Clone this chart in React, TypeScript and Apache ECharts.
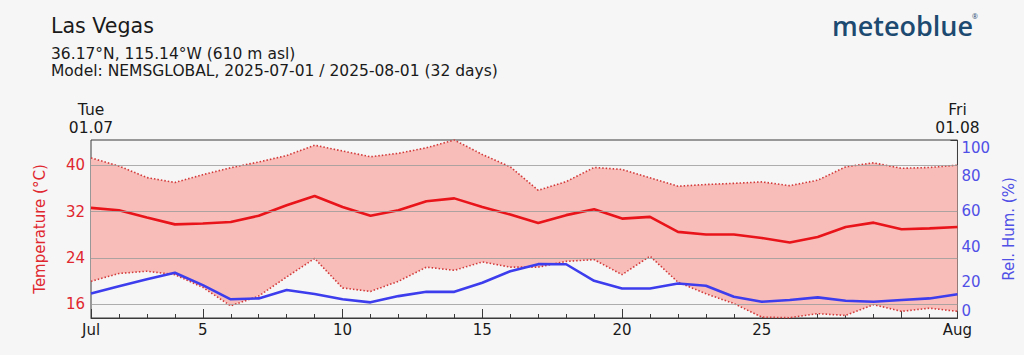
import React, { useEffect, useRef } from "react";
import * as echarts from "echarts";

const dates = [
  "2025-07-01", "2025-07-02", "2025-07-03", "2025-07-04", "2025-07-05", "2025-07-06", "2025-07-07", "2025-07-08",
  "2025-07-09", "2025-07-10", "2025-07-11", "2025-07-12", "2025-07-13", "2025-07-14", "2025-07-15", "2025-07-16",
  "2025-07-17", "2025-07-18", "2025-07-19", "2025-07-20", "2025-07-21", "2025-07-22", "2025-07-23", "2025-07-24",
  "2025-07-25", "2025-07-26", "2025-07-27", "2025-07-28", "2025-07-29", "2025-07-30", "2025-07-31", "2025-08-01",
];

const tempMean = [
  32.65, 32.25, 31.0, 29.8, 29.95, 30.2, 31.3, 33.1, 34.7, 32.8,
  31.3, 32.25, 33.8, 34.3, 32.8, 31.5, 30.05, 31.4, 32.4, 30.8,
  31.1, 28.5, 28.05, 28.05, 27.45, 26.65, 27.6, 29.35, 30.1, 28.95,
  29.1, 29.35,
];
const tempMax = [
  41.3, 39.9, 37.9, 37.05, 38.4, 39.6, 40.6, 41.7, 43.5, 42.5,
  41.5, 42.1, 43.05, 44.4, 41.9, 39.75, 35.7, 37.2, 39.65, 39.3,
  37.85, 36.4, 36.7, 36.9, 37.15, 36.5, 37.45, 39.75, 40.45, 39.5,
  39.65, 40.05,
];
const tempMin = [
  19.95, 21.3, 21.7, 21.1, 18.9, 15.7, 17.4, 20.7, 23.9, 18.8,
  18.2, 19.95, 22.4, 21.85, 23.3, 22.4, 22.4, 23.4, 23.7, 21.1,
  24.3, 19.8, 17.8, 16.1, 13.75, 13.65, 14.35, 14.05, 15.9, 14.75,
  15.3, 14.75,
];
const relHum = [
  13.8, 17.9, 21.8, 25.4, 18.5, 10.5, 11.0, 15.7, 13.5, 10.5,
  8.8, 12.3, 14.7, 14.7, 19.8, 26.3, 30.25, 30.2, 20.9, 16.6,
  16.6, 19.4, 18.1, 11.9, 9.1, 10.1, 11.6, 9.7, 9.1, 10.1,
  11.0, 13.3,
];

const tempTicks = [16, 24, 32, 40];
const labeledDays = [5, 10, 15, 20, 25];
const majorTickDays = [5, 10, 15, 20, 25, 30];
const monthNames = ["Jan", "Feb", "Mar", "Apr", "May", "Jun", "Jul", "Aug", "Sep", "Oct", "Nov", "Dec"];
const weekDays = ["Sun", "Mon", "Tue", "Wed", "Thu", "Fri", "Sat"];

const FONT = "DejaVu Sans";
const RED = "#e8141a";
const RED_TEXT = "#e0262e";
const DOT = "#d23a3a";
const FILL = "#f8bdb9";
const BLUE = "#3d3ded";
const BLUE_TEXT = "#5050e6";

function bottomLabel(v: string): string {
  const day = Number(v.slice(8, 10));
  const month = Number(v.slice(5, 7));
  if (day === 1) return monthNames[month - 1];
  if (labeledDays.includes(day)) return String(day);
  return "";
}
function isMajor(v: string): boolean {
  const day = Number(v.slice(8, 10));
  return day === 1 || majorTickDays.includes(day);
}

export default function App() {
  const ref = useRef<HTMLDivElement>(null);
  useEffect(() => {
    if (!ref.current) return;
    const chart = echarts.init(ref.current, null, { renderer: "svg" });
    const band = tempMax.map((v, i) => +(v - tempMin[i]).toFixed(3));
    const lastIdx = dates.length - 1;
    chart.setOption({
      animation: false,
      backgroundColor: "#f6f6f6",
      textStyle: { fontFamily: FONT },
      grid: {
        left: 91,
        right: 62,
        top: 140,
        bottom: 37,
        show: true,
        borderColor: "#3a3a3a",
        borderWidth: 1,
        backgroundColor: "transparent",
      },
      graphic: [
        { type: "text", left: 51, top: 15, style: { text: "Las Vegas", font: `20.6px "${FONT}"`, fill: "#1a1a1a" } },
        { type: "text", left: 51, top: 46, style: { text: "36.17°N, 115.14°W (610 m asl)", font: `15.5px "${FONT}"`, fill: "#1a1a1a" } },
        { type: "text", left: 51, top: 63, style: { text: "Model: NEMSGLOBAL, 2025-07-01 / 2025-08-01 (32 days)", font: `15.5px "${FONT}"`, fill: "#1a1a1a" } },
        { type: "text", left: 832, top: 12, style: { text: "meteoblue", font: `600 27px "Open Sans"`, fill: "#1d4a70" } },
        { type: "text", left: 972, top: 13, style: { text: "®", font: `7px "Open Sans"`, fill: "#1d4a70" } },
      ],
      xAxis: [
        {
          type: "category",
          data: dates,
          boundaryGap: false,
          position: "bottom",
          axisLine: { show: true, lineStyle: { color: "#3a3a3a" } },
          axisTick: { show: true, inside: true, length: 4, interval: 0, lineStyle: { color: "#3a3a3a" } },
          axisLabel: { interval: 0, formatter: bottomLabel, color: "#1a1a1a", fontSize: 15, margin: 4, fontFamily: FONT },
          splitLine: { show: false },
        },
        {
          type: "category",
          data: dates,
          boundaryGap: false,
          position: "bottom",
          axisLine: { show: false },
          axisTick: {
            show: true,
            inside: true,
            length: 9,
            interval: (_i: number, v: string) => isMajor(v),
            lineStyle: { color: "#3a3a3a" },
          },
          axisLabel: { show: false },
          splitLine: { show: false },
        },
        {
          type: "category",
          data: dates,
          boundaryGap: false,
          position: "top",
          axisLine: { show: false },
          axisTick: { show: false },
          axisLabel: {
            interval: (i: number) => i === 0 || i === lastIdx,
            formatter: (v: string) => {
              const d = new Date(v + "T00:00:00Z");
              return weekDays[d.getUTCDay()] + "\n" + v.slice(8, 10) + "." + v.slice(5, 7);
            },
            color: "#1a1a1a",
            fontSize: 15.5,
            lineHeight: 18,
            margin: 3,
            fontFamily: FONT,
          },
          splitLine: { show: false },
        },
      ],
      yAxis: [
        {
          type: "value",
          position: "left",
          min: 13.6,
          max: 44.4,
          name: "Temperature (°C)",
          nameLocation: "middle",
          nameRotate: 90,
          nameGap: 44,
          nameTextStyle: { color: RED_TEXT, fontSize: 15, fontFamily: FONT },
          axisLine: { show: false },
          axisTick: { show: false },
          splitLine: { show: false },
          axisLabel: { customValues: tempTicks, color: RED_TEXT, fontSize: 15, margin: 6, fontFamily: FONT },
        },
        {
          type: "value",
          position: "right",
          min: 0,
          max: 100,
          interval: 20,
          name: "Rel. Hum. (%)",
          nameLocation: "middle",
          nameRotate: 90,
          nameGap: 25,
          nameTextStyle: { color: BLUE_TEXT, fontSize: 15, fontFamily: FONT },
          axisLine: { show: false },
          axisTick: { show: true, inside: true, length: 7, lineStyle: { color: "#3a3a3a" } },
          splitLine: { show: false },
          axisLabel: {
            color: BLUE_TEXT,
            fontSize: 15,
            margin: 4,
            fontFamily: FONT,
            verticalAlignMinLabel: "bottom",
            verticalAlignMaxLabel: "top",
          },
        },
      ],
      series: [
        {
          type: "line",
          name: "minBase",
          data: tempMin,
          stack: "band",
          symbol: "none",
          silent: true,
          lineStyle: { opacity: 0 },
          z: 1,
        },
        {
          type: "line",
          name: "band",
          data: band,
          stack: "band",
          symbol: "none",
          silent: true,
          lineStyle: { opacity: 0 },
          areaStyle: { color: FILL, opacity: 1 },
          z: 1,
        },
        {
          type: "line",
          name: "grid",
          data: [],
          silent: true,
          z: 2,
          markLine: {
            silent: true,
            symbol: "none",
            label: { show: false },
            lineStyle: { color: "#9a9a9a", width: 0.8, type: "solid" },
            emphasis: { disabled: true },
            data: tempTicks.map((t) => ({ yAxis: t })),
          },
        },
        {
          type: "line",
          name: "max",
          data: tempMax,
          symbol: "none",
          silent: true,
          lineStyle: { color: DOT, width: 1.6, type: [1.5, 2] },
          z: 3,
        },
        {
          type: "line",
          name: "min",
          data: tempMin,
          symbol: "none",
          silent: true,
          lineStyle: { color: DOT, width: 1.6, type: [1.5, 2] },
          z: 3,
        },
        {
          type: "line",
          name: "mean",
          data: tempMean,
          symbol: "none",
          silent: true,
          lineStyle: { color: RED, width: 2.6 },
          z: 4,
        },
        {
          type: "line",
          name: "rh",
          yAxisIndex: 1,
          data: relHum,
          symbol: "none",
          silent: true,
          lineStyle: { color: BLUE, width: 2.6 },
          z: 4,
        },
      ],
    });
    return () => chart.dispose();
  }, []);
  return <div ref={ref} style={{ position: "absolute", left: 0, top: 0, width: 1024, height: 355 }} />;
}
